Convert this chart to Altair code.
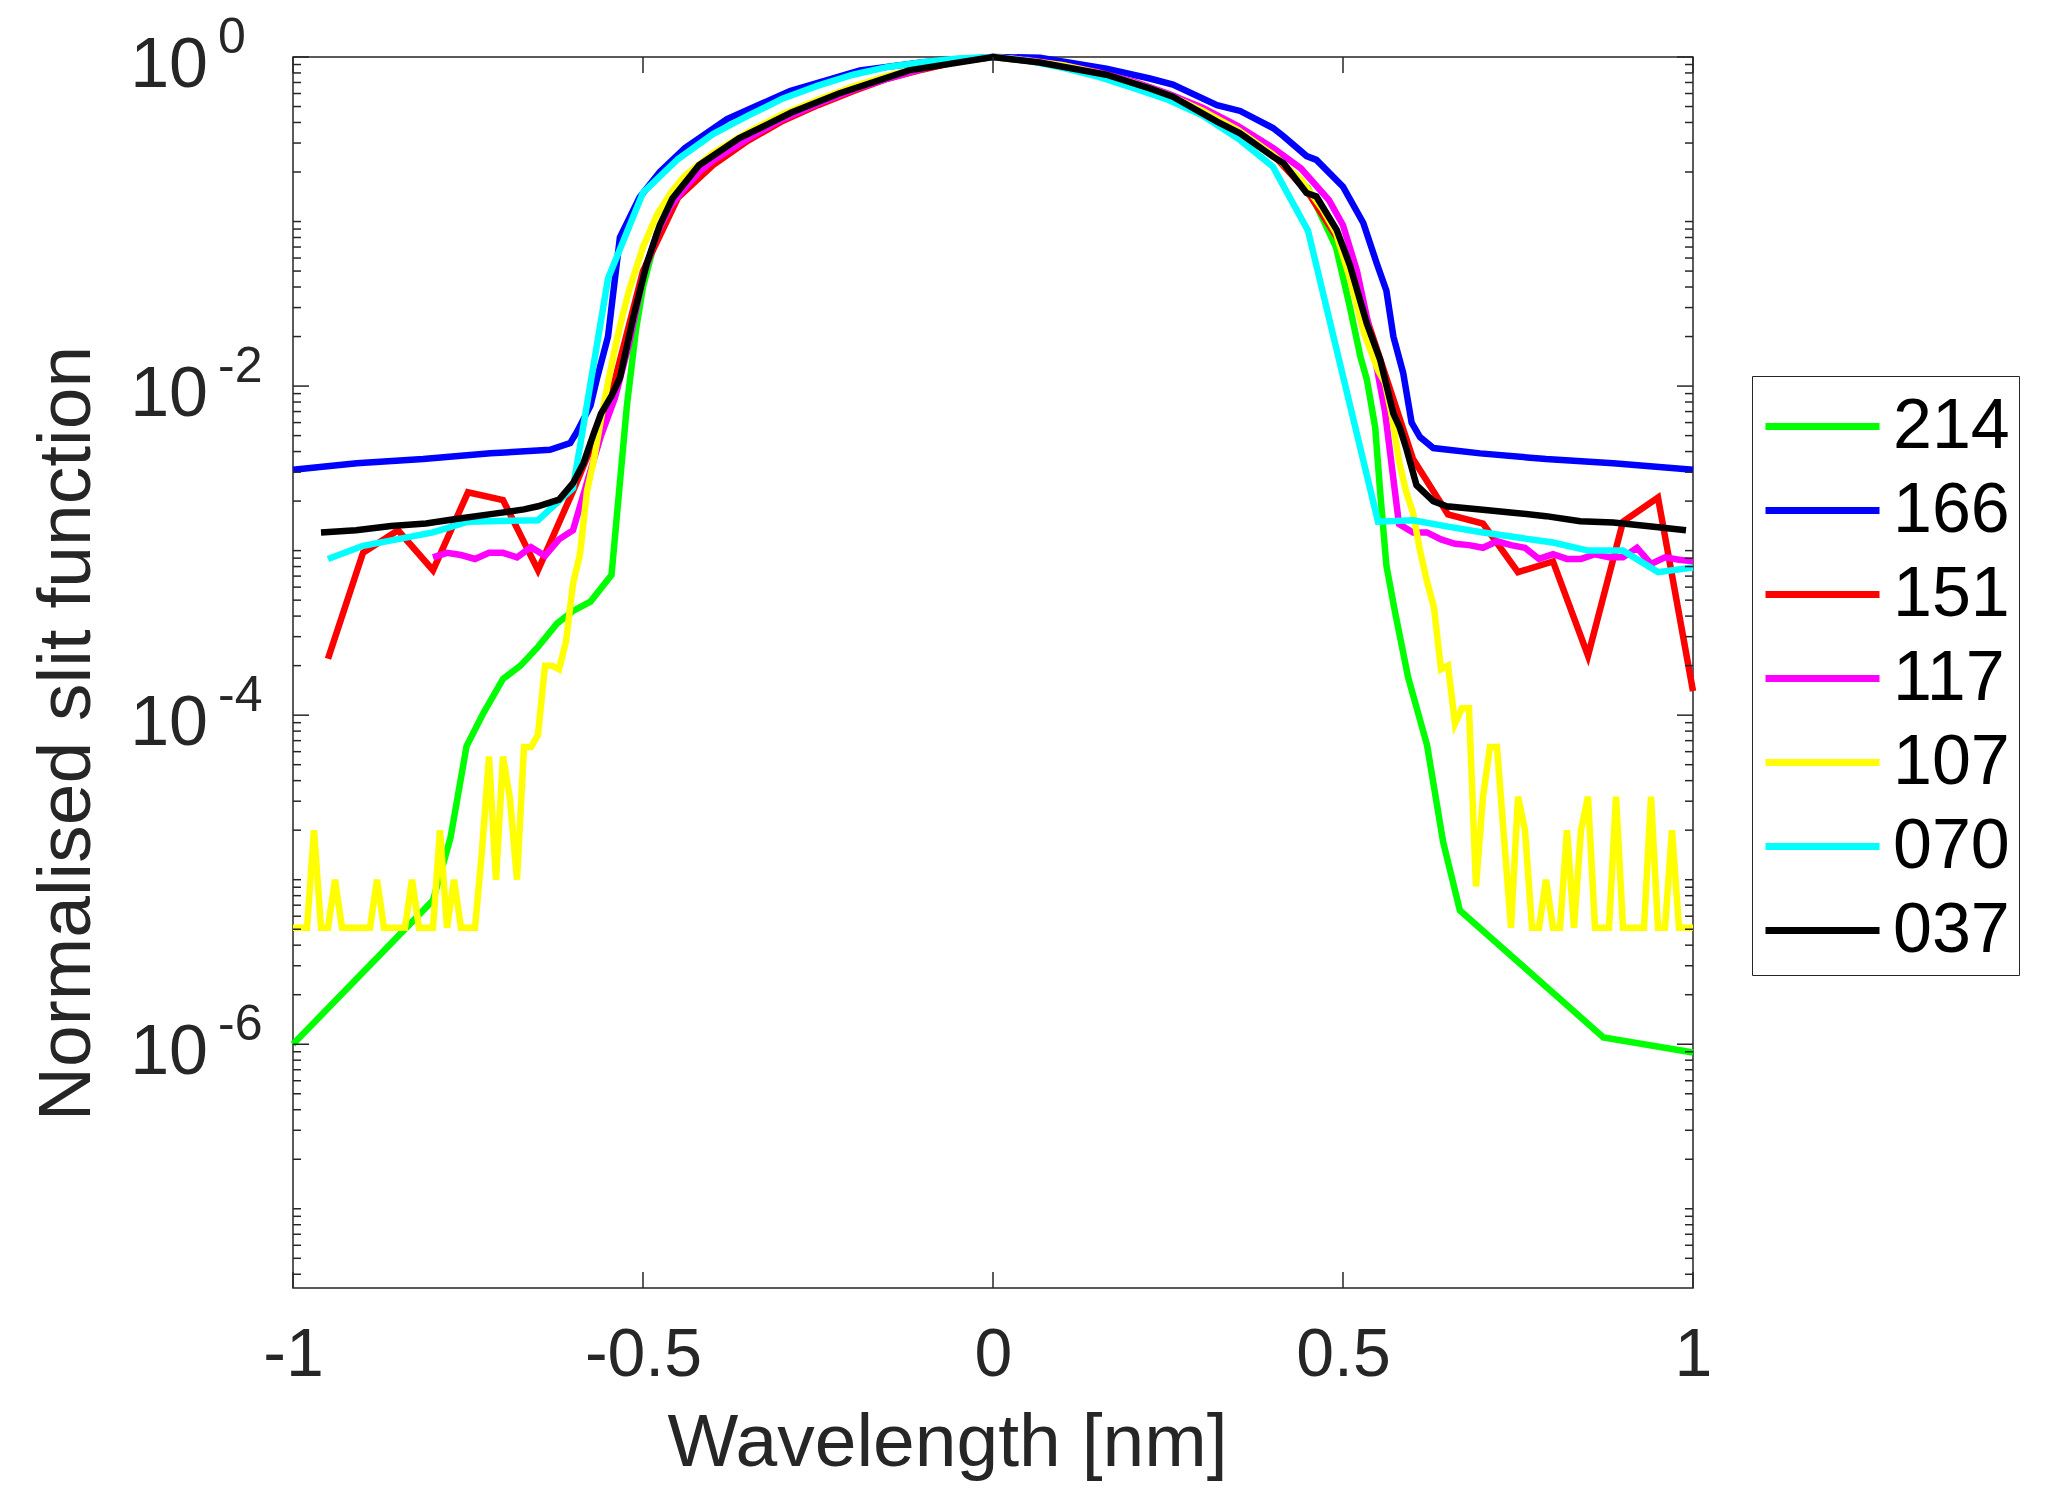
import altair as alt
import pandas as pd

# series order as in the legend (later ones drawn on top)
names = ["214", "166", "151", "117", "107", "070", "037"]
colors = ["#00ff00", "#0000ff", "#ff0000", "#ff00ff", "#ffff00", "#00ffff", "#000000"]

# (wavelength [nm], normalised slit function)
s214 = [(-1.0, 1.0e-6), (-0.80, 7.5e-6), (-0.775, 1.8e-5), (-0.752, 6.5e-5), (-0.728, 1.03e-4),
        (-0.70, 1.66e-4), (-0.675, 2.0e-4), (-0.65, 2.6e-4), (-0.623, 3.6e-4), (-0.60, 4.3e-4),
        (-0.575, 4.9e-4), (-0.545, 7.1e-4), (-0.523, 7.6e-3), (-0.51, 0.022), (-0.50, 0.04),
        (-0.48, 0.085), (-0.45, 0.14), (-0.40, 0.23), (-0.35, 0.32), (-0.30, 0.43), (-0.25, 0.54),
        (-0.20, 0.65), (-0.15, 0.76), (-0.10, 0.87), (-0.05, 0.96), (0.0, 1.0), (0.05, 0.95),
        (0.10, 0.89), (0.15, 0.80), (0.20, 0.70), (0.25, 0.59), (0.30, 0.47), (0.35, 0.36),
        (0.40, 0.255), (0.45, 0.16), (0.49, 0.07), (0.51, 0.03), (0.525, 0.015), (0.534, 0.011),
        (0.546, 5.6e-3), (0.553, 2.3e-3), (0.562, 8.1e-4), (0.574, 4.3e-4), (0.593, 1.7e-4),
        (0.62, 6.6e-5), (0.643, 1.7e-5), (0.667, 6.5e-6), (0.872, 1.1e-6), (1.0, 8.9e-7)]

s166 = [(-1.0, 3.1e-3), (-0.909, 3.4e-3), (-0.814, 3.6e-3), (-0.718, 3.9e-3), (-0.633, 4.1e-3),
        (-0.604, 4.5e-3), (-0.594, 5.3e-3), (-0.575, 7.6e-3), (-0.566, 0.011), (-0.55, 0.02),
        (-0.533, 0.08), (-0.505, 0.14), (-0.476, 0.2), (-0.44, 0.28), (-0.38, 0.42), (-0.29, 0.62),
        (-0.19, 0.83), (-0.10, 0.93), (0.0, 1.0), (0.067, 0.99), (0.162, 0.85), (0.224, 0.74),
        (0.257, 0.68), (0.32, 0.51), (0.353, 0.47), (0.40, 0.37), (0.415, 0.33), (0.448, 0.25),
        (0.462, 0.237), (0.50, 0.163), (0.529, 0.098), (0.548, 0.056), (0.562, 0.038),
        (0.572, 0.02), (0.586, 0.012), (0.598, 6.0e-3), (0.61, 4.9e-3), (0.629, 4.2e-3),
        (0.696, 3.9e-3), (0.79, 3.6e-3), (0.886, 3.4e-3), (1.0, 3.1e-3)]

s151 = [(-0.95, 2.2e-4), (-0.90, 9.7e-4), (-0.85, 1.33e-3), (-0.80, 7.6e-4), (-0.75, 2.26e-3),
        (-0.70, 2.03e-3), (-0.65, 7.6e-4), (-0.60, 2.3e-3), (-0.55, 7.5e-3), (-0.50, 0.05),
        (-0.45, 0.14), (-0.40, 0.22), (-0.35, 0.31), (-0.30, 0.41), (-0.25, 0.51), (-0.20, 0.62),
        (-0.15, 0.74), (-0.10, 0.84), (-0.05, 0.94), (0.0, 1.0), (0.05, 0.95), (0.10, 0.88),
        (0.15, 0.80), (0.20, 0.70), (0.25, 0.59), (0.30, 0.47), (0.35, 0.36), (0.40, 0.255),
        (0.45, 0.15), (0.50, 0.07), (0.55, 0.016), (0.60, 3.6e-3), (0.65, 1.66e-3), (0.70, 1.46e-3),
        (0.75, 7.4e-4), (0.80, 8.6e-4), (0.85, 2.3e-4), (0.90, 1.5e-3), (0.95, 2.1e-3), (1.0, 1.4e-4)]

s117 = [(-0.80, 9.1e-4), (-0.78, 9.7e-4), (-0.76, 9.4e-4), (-0.74, 8.9e-4), (-0.72, 9.7e-4),
        (-0.70, 9.7e-4), (-0.68, 9.1e-4), (-0.66, 1.05e-3), (-0.64, 9.3e-4), (-0.62, 1.17e-3),
        (-0.60, 1.33e-3), (-0.58, 2.6e-3), (-0.56, 5.0e-3), (-0.54, 8.5e-3), (-0.52, 1.8e-2),
        (-0.50, 4.6e-2), (-0.48, 8.5e-2), (-0.46, 0.125), (-0.44, 0.16), (-0.42, 0.2), (-0.40, 0.235),
        (-0.35, 0.32), (-0.30, 0.42), (-0.25, 0.52), (-0.20, 0.63), (-0.15, 0.74), (-0.10, 0.85),
        (-0.05, 0.95), (0.0, 1.0), (0.05, 0.96), (0.10, 0.89), (0.15, 0.81), (0.20, 0.71),
        (0.25, 0.60), (0.30, 0.49), (0.35, 0.38), (0.40, 0.28), (0.44, 0.21), (0.48, 0.135),
        (0.50, 0.095), (0.52, 0.05), (0.54, 0.02), (0.56, 7.0e-3), (0.58, 1.45e-3), (0.60, 1.29e-3),
        (0.62, 1.29e-3), (0.64, 1.17e-3), (0.66, 1.1e-3), (0.68, 1.08e-3), (0.70, 1.04e-3),
        (0.72, 1.14e-3), (0.74, 1.08e-3), (0.76, 1.04e-3), (0.78, 8.9e-4), (0.80, 9.5e-4),
        (0.82, 8.9e-4), (0.84, 8.9e-4), (0.86, 9.5e-4), (0.88, 9.1e-4), (0.90, 9.1e-4),
        (0.92, 1.04e-3), (0.94, 8.3e-4), (0.96, 9.1e-4), (0.98, 8.8e-4), (1.0, 8.6e-4)]

s107 = [(-1.00, 5.1e-6), (-0.99, 5.1e-6), (-0.98, 5.1e-6), (-0.97, 2.0e-5), (-0.96, 5.1e-6),
        (-0.95, 5.1e-6), (-0.94, 1.0e-5), (-0.93, 5.1e-6), (-0.89, 5.1e-6), (-0.88, 1.0e-5),
        (-0.87, 5.1e-6), (-0.84, 5.1e-6), (-0.83, 1.0e-5), (-0.82, 5.1e-6), (-0.80, 5.1e-6),
        (-0.79, 2.0e-5), (-0.78, 5.1e-6), (-0.77, 1.0e-5), (-0.76, 5.1e-6), (-0.74, 5.1e-6),
        (-0.73, 1.5e-5), (-0.72, 5.6e-5), (-0.71, 1.0e-5), (-0.70, 5.6e-5), (-0.69, 3.1e-5),
        (-0.68, 1.0e-5), (-0.67, 6.4e-5), (-0.66, 6.4e-5), (-0.65, 7.6e-5), (-0.64, 2.0e-4),
        (-0.63, 2.0e-4), (-0.62, 1.9e-4), (-0.61, 2.8e-4), (-0.60, 6.3e-4), (-0.59, 9.5e-4),
        (-0.58, 2.3e-3), (-0.57, 3.6e-3), (-0.56, 6.3e-3), (-0.55, 1.05e-2), (-0.54, 1.7e-2),
        (-0.53, 2.6e-2), (-0.52, 3.8e-2), (-0.50, 7.0e-2), (-0.48, 0.11), (-0.46, 0.15),
        (-0.44, 0.19), (-0.40, 0.26), (-0.35, 0.35), (-0.30, 0.45), (-0.25, 0.55), (-0.20, 0.66),
        (-0.15, 0.77), (-0.10, 0.87), (-0.05, 0.96), (0.0, 1.0), (0.05, 0.95), (0.10, 0.89),
        (0.15, 0.80), (0.20, 0.70), (0.25, 0.59), (0.30, 0.47), (0.35, 0.36), (0.40, 0.255),
        (0.44, 0.18), (0.47, 0.12), (0.49, 0.085), (0.51, 0.045), (0.53, 0.021), (0.55, 0.0125),
        (0.56, 0.0105), (0.57, 6.5e-3), (0.58, 3.5e-3), (0.59, 2.3e-3), (0.60, 1.7e-3),
        (0.61, 1.0e-3), (0.62, 6.5e-4), (0.63, 4.5e-4), (0.64, 1.9e-4), (0.65, 2.0e-4),
        (0.66, 8.9e-5), (0.67, 1.1e-4), (0.68, 1.1e-4), (0.69, 9.1e-6), (0.70, 3.2e-5),
        (0.71, 6.4e-5), (0.72, 6.4e-5), (0.74, 5.1e-6), (0.75, 3.2e-5), (0.76, 2.0e-5),
        (0.77, 5.1e-6), (0.78, 5.1e-6), (0.79, 1.0e-5), (0.80, 5.1e-6), (0.81, 5.1e-6),
        (0.82, 2.0e-5), (0.83, 5.1e-6), (0.84, 2.0e-5), (0.85, 3.2e-5), (0.86, 5.1e-6),
        (0.88, 5.1e-6), (0.89, 3.2e-5), (0.90, 5.1e-6), (0.93, 5.1e-6), (0.94, 3.2e-5),
        (0.95, 5.1e-6), (0.96, 5.1e-6), (0.97, 2.0e-5), (0.98, 5.1e-6), (1.0, 5.1e-6)]

s070 = [(-0.95, 8.9e-4), (-0.90, 1.07e-3), (-0.80, 1.29e-3), (-0.75, 1.5e-3), (-0.65, 1.53e-3),
        (-0.60, 2.4e-3), (-0.55, 0.045), (-0.50, 0.15), (-0.45, 0.24), (-0.40, 0.34), (-0.35, 0.44),
        (-0.30, 0.56), (-0.25, 0.67), (-0.20, 0.78), (-0.15, 0.87), (-0.10, 0.93), (-0.05, 0.98),
        (0.0, 1.0), (0.05, 0.95), (0.10, 0.86), (0.15, 0.76), (0.20, 0.65), (0.25, 0.55),
        (0.30, 0.44), (0.35, 0.32), (0.40, 0.215), (0.45, 0.088), (0.55, 1.5e-3), (0.60, 1.53e-3),
        (0.65, 1.4e-3), (0.70, 1.29e-3), (0.75, 1.2e-3), (0.80, 1.12e-3), (0.85, 1.0e-3),
        (0.90, 1.0e-3), (0.95, 7.4e-4), (1.0, 7.9e-4)]

s037 = [(-0.96, 1.29e-3), (-0.91, 1.33e-3), (-0.86, 1.41e-3), (-0.81, 1.46e-3), (-0.77, 1.55e-3),
        (-0.72, 1.66e-3), (-0.67, 1.78e-3), (-0.65, 1.86e-3), (-0.62, 2.04e-3), (-0.60, 2.57e-3),
        (-0.585, 3.4e-3), (-0.57, 5.2e-3), (-0.56, 6.8e-3), (-0.545, 8.7e-3), (-0.533, 1.12e-2),
        (-0.514, 2.6e-2), (-0.495, 5.5e-2), (-0.476, 9.5e-2), (-0.458, 0.138), (-0.42, 0.22),
        (-0.363, 0.32), (-0.288, 0.46), (-0.22, 0.60), (-0.12, 0.83), (0.0, 1.0), (0.067, 0.925),
        (0.162, 0.78), (0.224, 0.645), (0.257, 0.574), (0.32, 0.405), (0.353, 0.344), (0.40, 0.248),
        (0.415, 0.226), (0.448, 0.149), (0.462, 0.142), (0.491, 0.089), (0.51, 0.054),
        (0.534, 0.024), (0.553, 0.0145), (0.567, 0.0083), (0.572, 6.8e-3), (0.581, 5.6e-3),
        (0.591, 4.1e-3), (0.605, 2.5e-3), (0.629, 2.0e-3), (0.648, 1.86e-3), (0.696, 1.78e-3),
        (0.743, 1.70e-3), (0.79, 1.62e-3), (0.839, 1.51e-3), (0.886, 1.48e-3), (0.934, 1.41e-3),
        (0.99, 1.33e-3)]

all_series = [s214, s166, s151, s117, s107, s070, s037]

x_ticks = [-1, -0.5, 0, 0.5, 1]
y_major = [1, 1e-2, 1e-4, 1e-6]
y_exps = ["0", "-2", "-4", "-6"]
y_minor = [m * 10.0 ** e for e in range(-8, 0) for m in range(1, 10)
           if m * 10.0 ** e >= 3.3e-8 and not (m == 1 and e in (-2, -4, -6))]

W, H = 1400, 1231
AXC = "#262626"
FONT = "Liberation Sans"

xscale = alt.Scale(domain=[-1, 1], nice=False)
yscale = alt.Scale(type="log", domain=[3.3e-8, 1], nice=False)

xaxis = alt.Axis(values=x_ticks, labelExpr="'' + datum.value", ticks=False, domain=False,
                 grid=False, labelFontSize=68, labelPadding=33, labelFont=FONT,
                 labelColor=AXC, labelFlush=False, title="Wavelength [nm]", titleFontSize=75,
                 titleFont=FONT, titleColor=AXC, titleFontWeight="normal", titlePadding=17,
                 titleX=654)
yaxis = alt.Axis(labels=False, ticks=False, domain=False, grid=False,
                 title="Normalised slit function", titleFontSize=75, titleFont=FONT,
                 titleColor=AXC, titleFontWeight="normal", titleX=-227, titleY=676,
                 titleAngle=-90, titleAlign="center", titleBaseline="middle")

legend = alt.Legend(title=None, orient="none", legendX=1459, legendY=319,
                    symbolType="M-1.5,0L1.5,0", symbolSize=5776, symbolStrokeWidth=7,
                    symbolOffset=20, labelOffset=29, labelFontSize=70, labelFont=FONT,
                    labelColor="black", padding=9, rowPadding=7, strokeColor=AXC,
                    fillColor="white", labelLimit=0)

rows = []
for name, pts in zip(names, all_series):
    for i, (wl, v) in enumerate(pts):
        rows.append({"series": name, "wl": wl, "val": v, "idx": i})
df = pd.DataFrame(rows)

layers = []
for name in names:
    layers.append(
        alt.Chart(df[df["series"] == name]).mark_line(strokeWidth=6.5).encode(
            x=alt.X("wl:Q", scale=xscale, axis=xaxis),
            y=alt.Y("val:Q", scale=yscale, axis=yaxis),
            color=alt.Color("series:N", scale=alt.Scale(domain=names, range=colors),
                            legend=legend),
            order="idx:Q",
        )
    )

# inward ticks on all four sides
ymaj = pd.DataFrame({"v": y_major, "exp": y_exps})
ymin = pd.DataFrame({"v": y_minor})
xt = pd.DataFrame({"v": x_ticks})

def ytick(data, x0, x1):
    return alt.Chart(data).mark_rule(color=AXC, strokeWidth=1.5).encode(
        y=alt.Y("v:Q", scale=yscale, axis=yaxis), x=alt.value(x0), x2=alt.value(x1))

def xtick(y0, y1):
    return alt.Chart(xt).mark_rule(color=AXC, strokeWidth=1.5).encode(
        x=alt.X("v:Q", scale=xscale, axis=xaxis), y=alt.value(y0), y2=alt.value(y1))

ticks = [ytick(ymaj, 0, 16), ytick(ymaj, W - 16, W), ytick(ymin, 0, 8), ytick(ymin, W - 8, W),
         xtick(H - 16, H), xtick(0, 16)]

# y tick labels "10" with a raised exponent
base_lbl = alt.Chart(ymaj).mark_text(align="right", baseline="middle", fontSize=70,
                                     font=FONT, color=AXC, dy=9).encode(
    y=alt.Y("v:Q", scale=yscale, axis=yaxis), x=alt.value(-85), text=alt.value("10"))
exp_lbl = alt.Chart(ymaj).mark_text(align="left", baseline="middle", fontSize=50,
                                    font=FONT, color=AXC, dy=-19).encode(
    y=alt.Y("v:Q", scale=yscale, axis=yaxis), x=alt.value(-75), text="exp:N")

chart = alt.layer(*layers, *ticks, base_lbl, exp_lbl).properties(
    width=W, height=H, autosize=alt.AutoSizeParams(type="none"),
    padding={"left": 285, "top": 49, "right": 365, "bottom": 205},
).configure_view(stroke=AXC, strokeWidth=1.5)

chart.save("out.html", embed_options={"renderer": "svg", "actions": False})
